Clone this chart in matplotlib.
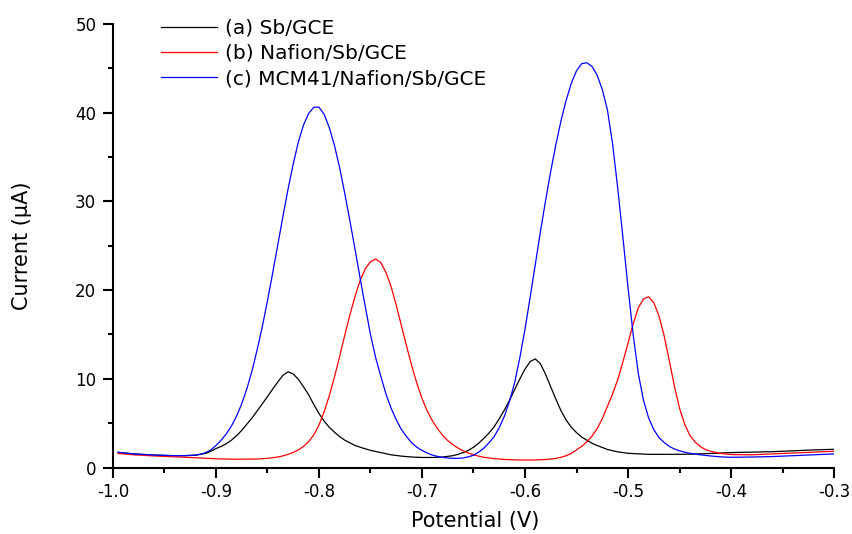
import matplotlib
matplotlib.use("Agg")
import matplotlib.pyplot as plt
from matplotlib.ticker import MultipleLocator, FormatStrFormatter

plt.rcParams['font.family'] = ['DejaVu Sans']
plt.rcParams['axes.unicode_minus'] = False

# Stripping voltammograms: potential (V) vs current (uA)
labels = ["(a) Sb/GCE", "(b) Nafion/Sb/GCE", "(c) MCM41/Nafion/Sb/GCE"]
colors = ["black", "red", "blue"]

sb_potential = [-0.995, -0.98, -0.96, -0.94, -0.93, -0.92, -0.91, -0.905, -0.90, -0.895,
                -0.89, -0.885, -0.88, -0.875, -0.87, -0.865, -0.86, -0.855, -0.85, -0.845,
                -0.84, -0.835, -0.83, -0.825, -0.82, -0.815, -0.81, -0.805, -0.80, -0.795,
                -0.79, -0.785, -0.78, -0.775, -0.77, -0.765, -0.76, -0.75, -0.74, -0.73,
                -0.72, -0.71, -0.70, -0.69, -0.68, -0.67, -0.665, -0.66, -0.655, -0.65,
                -0.645, -0.64, -0.635, -0.63, -0.625, -0.62, -0.615, -0.61, -0.605, -0.60,
                -0.595, -0.59, -0.585, -0.58, -0.575, -0.57, -0.565, -0.56, -0.555, -0.55,
                -0.545, -0.54, -0.535, -0.53, -0.52, -0.51, -0.50, -0.48, -0.46, -0.44,
                -0.42, -0.40, -0.38, -0.36, -0.34, -0.32, -0.30]
sb_current = [1.73, 1.55, 1.42, 1.35, 1.35, 1.4, 1.6, 1.85, 2.15, 2.4,
              2.7, 3.1, 3.6, 4.2, 4.9, 5.6, 6.4, 7.2, 8.0, 8.85,
              9.65, 10.4, 10.8, 10.55, 9.95, 9.1, 8.2, 7.1, 6.1, 5.25,
              4.55, 4.0, 3.5, 3.1, 2.8, 2.5, 2.3, 1.95, 1.7, 1.45,
              1.3, 1.2, 1.15, 1.15, 1.2, 1.35, 1.5, 1.7, 1.95, 2.3,
              2.75, 3.3, 3.9, 4.6, 5.5, 6.5, 7.6, 8.8, 10.0, 11.1,
              11.95, 12.25, 11.7, 10.5, 9.1, 7.7, 6.4, 5.35, 4.55, 3.95,
              3.45, 3.1, 2.75, 2.5, 2.05, 1.78, 1.62, 1.5, 1.5, 1.52,
              1.6, 1.7, 1.75, 1.8, 1.9, 2.0, 2.07]

nafion_potential = [-0.995, -0.98, -0.96, -0.94, -0.92, -0.90, -0.88, -0.86, -0.85, -0.84,
                    -0.835, -0.83, -0.825, -0.82, -0.815, -0.81, -0.805, -0.80, -0.795, -0.79,
                    -0.785, -0.78, -0.775, -0.77, -0.765, -0.76, -0.755, -0.75, -0.745, -0.74,
                    -0.735, -0.73, -0.725, -0.72, -0.715, -0.71, -0.705, -0.70, -0.695, -0.69,
                    -0.685, -0.68, -0.675, -0.67, -0.665, -0.66, -0.655, -0.65, -0.645, -0.64,
                    -0.63, -0.62, -0.61, -0.60, -0.59, -0.58, -0.575, -0.57, -0.565, -0.56,
                    -0.555, -0.55, -0.545, -0.54, -0.535, -0.53, -0.525, -0.52, -0.515, -0.51,
                    -0.505, -0.50, -0.495, -0.49, -0.485, -0.48, -0.475, -0.47, -0.465, -0.46,
                    -0.455, -0.45, -0.445, -0.44, -0.435, -0.43, -0.425, -0.42, -0.41, -0.40,
                    -0.38, -0.36, -0.34, -0.32, -0.30]
nafion_current = [1.6, 1.45, 1.32, 1.22, 1.12, 1.0, 0.95, 0.98, 1.05, 1.2,
                  1.33, 1.5, 1.72, 2.0, 2.4, 2.95, 3.7, 4.8, 6.3, 8.1,
                  10.2, 12.5, 14.9, 17.2, 19.3, 21.1, 22.4, 23.2, 23.5, 23.1,
                  22.0, 20.4, 18.3, 16.0, 13.7, 11.5, 9.5, 7.8, 6.4, 5.3,
                  4.4, 3.65, 3.05, 2.6, 2.2, 1.9, 1.65, 1.45, 1.3, 1.17,
                  1.02, 0.93, 0.88, 0.86, 0.87, 0.92, 0.97, 1.05, 1.17, 1.35,
                  1.62, 2.0, 2.4, 2.9, 3.55, 4.4, 5.5, 6.9, 8.3, 9.9,
                  11.9, 14.0, 16.2, 18.0, 19.0, 19.25, 18.6, 17.1, 14.9, 12.1,
                  9.2, 6.7, 4.9, 3.65, 2.9, 2.4, 2.05, 1.85, 1.6, 1.48,
                  1.45, 1.55, 1.65, 1.75, 1.85]

mcm_potential = [-0.995, -0.98, -0.96, -0.94, -0.93, -0.92, -0.915, -0.91, -0.905, -0.90,
                 -0.895, -0.89, -0.885, -0.88, -0.875, -0.87, -0.865, -0.86, -0.855, -0.85,
                 -0.845, -0.84, -0.835, -0.83, -0.825, -0.82, -0.815, -0.81, -0.805, -0.80,
                 -0.795, -0.79, -0.785, -0.78, -0.775, -0.77, -0.765, -0.76, -0.755, -0.75,
                 -0.745, -0.74, -0.735, -0.73, -0.725, -0.72, -0.715, -0.71, -0.705, -0.70,
                 -0.695, -0.69, -0.685, -0.68, -0.675, -0.67, -0.665, -0.66, -0.655, -0.65,
                 -0.645, -0.64, -0.635, -0.63, -0.625, -0.62, -0.615, -0.61, -0.605, -0.60,
                 -0.595, -0.59, -0.585, -0.58, -0.575, -0.57, -0.565, -0.56, -0.555, -0.55,
                 -0.545, -0.54, -0.535, -0.53, -0.525, -0.52, -0.515, -0.51, -0.505, -0.50,
                 -0.495, -0.49, -0.485, -0.48, -0.475, -0.47, -0.465, -0.46, -0.455, -0.45,
                 -0.445, -0.44, -0.43, -0.42, -0.41, -0.40, -0.38, -0.36, -0.34, -0.32,
                 -0.30]
mcm_current = [1.73, 1.55, 1.42, 1.35, 1.36, 1.42, 1.52, 1.7, 2.0, 2.5,
               3.1, 3.8, 4.7, 5.8, 7.2, 8.9, 10.9, 13.3, 15.9, 18.8,
               21.9, 25.1, 28.3, 31.4, 34.2, 36.7, 38.6, 39.9, 40.6, 40.6,
               39.8, 38.3, 36.3, 33.8, 30.9, 27.8, 24.6, 21.3, 18.1, 15.0,
               12.4, 10.3, 8.3, 6.7, 5.4, 4.3, 3.5, 2.8, 2.3, 1.95,
               1.65, 1.42, 1.27, 1.16, 1.09, 1.05, 1.05, 1.1, 1.22, 1.4,
               1.75, 2.2, 2.8, 3.5, 4.5, 5.8, 7.5, 9.6, 12.4, 15.6,
               19.2, 22.9, 26.6, 30.1, 33.4, 36.4, 39.1, 41.4, 43.3, 44.7,
               45.5, 45.6, 45.2, 44.2, 42.6, 40.3, 36.5, 31.5, 26.0, 20.3,
               15.0, 10.6, 7.6, 5.6, 4.3, 3.4, 2.85, 2.4, 2.1, 1.9,
               1.75, 1.62, 1.45, 1.32, 1.22, 1.17, 1.2, 1.25, 1.35, 1.45,
               1.55]

series = [(sb_potential, sb_current),
          (nafion_potential, nafion_current),
          (mcm_potential, mcm_current)]

fig = plt.figure(figsize=(8.52, 5.34), dpi=100)
ax = fig.add_axes([0.1326, 0.1242, 0.8463, 0.8314])

for (x, y), lab, col in zip(series, labels, colors):
    ax.plot(x, y, color=col, lw=0.9, label=lab, solid_joinstyle="round")

ax.set_xlim(-1.0, -0.3)
ax.set_ylim(0, 50)

for side in ("top", "right"):
    ax.spines[side].set_visible(False)
for side in ("left", "bottom"):
    ax.spines[side].set_linewidth(1.5)

ax.xaxis.set_major_locator(MultipleLocator(0.1))
ax.xaxis.set_minor_locator(MultipleLocator(0.05))
ax.yaxis.set_major_locator(MultipleLocator(10))
ax.yaxis.set_minor_locator(MultipleLocator(5))
ax.xaxis.set_major_formatter(FormatStrFormatter("%.1f"))
ax.yaxis.set_major_formatter(FormatStrFormatter("%d"))

ax.tick_params(which="major", direction="out", length=7, width=1.5, labelsize=12)
ax.tick_params(which="minor", direction="out", length=3.6, width=1.5)
ax.tick_params(axis="y", which="major", pad=5)
ax.tick_params(axis="x", which="major", pad=4)

ax.set_xlabel("Potential (V)", fontsize=15)
ax.set_ylabel("Current (\u03bcA)", fontsize=15)
ax.xaxis.set_label_coords(0.502, -0.098)
ax.yaxis.set_label_coords(-0.112, 0.5)

ax.legend(loc="upper left", bbox_to_anchor=(161 / 852, 0.9645),
          bbox_transform=fig.transFigure, frameon=False, fontsize=14.5,
          handlelength=2.8, handletextpad=0.4, labelspacing=0.3,
          borderpad=0, borderaxespad=0)

fig.savefig("out.png", dpi=100)
